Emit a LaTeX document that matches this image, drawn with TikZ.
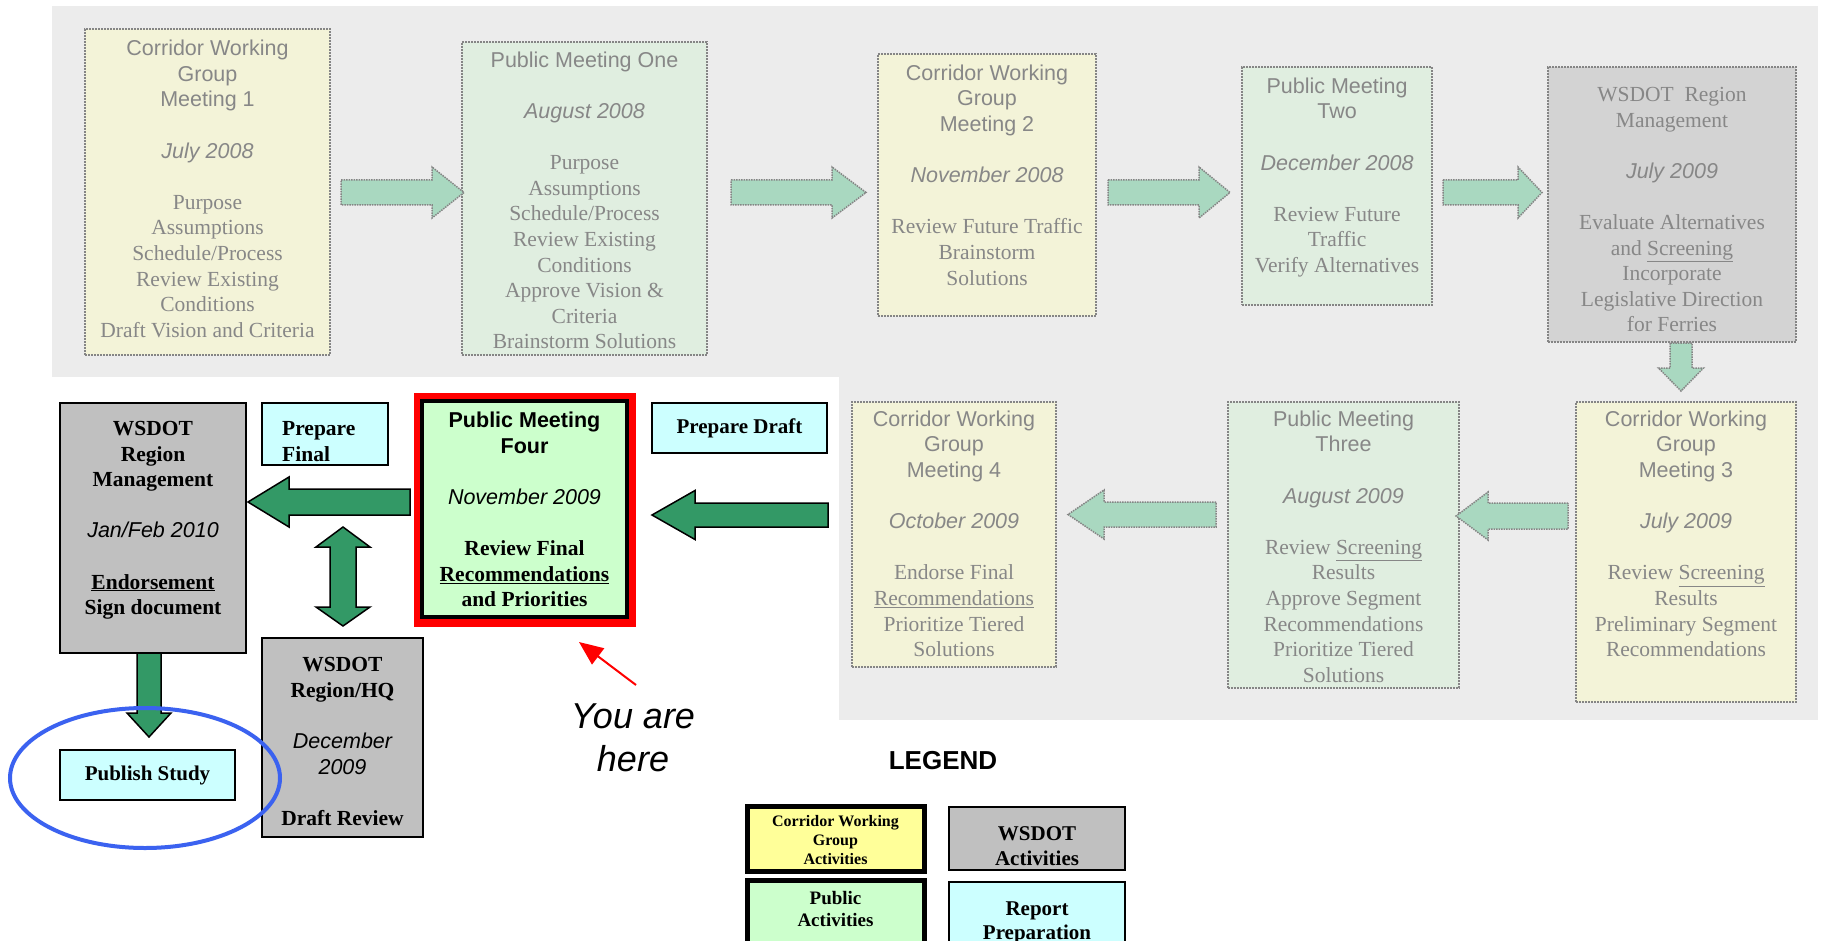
\documentclass[tikz,border=0pt]{standalone}
\usepackage{fontspec}
\setmainfont{Liberation Serif}
\setsansfont{Liberation Sans}
\usetikzlibrary{arrows.meta}
\definecolor{bggray}{HTML}{ECECEC}
\definecolor{fyel}{HTML}{F3F3D8}
\definecolor{fgrn}{HTML}{E0EEE0}
\definecolor{fgry}{HTML}{D3D3D3}
\definecolor{ftext}{HTML}{878787}
\definecolor{fborder}{HTML}{858585}
\definecolor{farrowc}{HTML}{A9D8C0}
\definecolor{wsgray}{HTML}{C0C0C0}
\definecolor{rcyan}{HTML}{CCFFFF}
\definecolor{pgreen}{HTML}{CCFFCC}
\definecolor{cyel}{HTML}{FFFF99}
\definecolor{agreen}{HTML}{339966}
\definecolor{eblue}{HTML}{3B62F0}
\newcommand\Hd[1]{{\sffamily #1}}
\newcommand\Dt[1]{{\sffamily\mdseries\itshape #1}}
\newcommand\mkbox[6]{\node[#2, minimum width={#5-#3}, minimum height={#6-#4}] (#1) at ({(#3+#5)/2},{(#4+#6)/2}) {};}
\newcommand\HArr[7]{\draw[#1] (#2,#5-#6) -- (#3,#5-#6) -- (#3,#5-#7) -- (#4,#5) -- (#3,#5+#7) -- (#3,#5+#6) -- (#2,#5+#6) -- cycle;}
\newcommand\VArr[7]{\draw[#1] (#5-#6,#2) -- (#5-#6,#3) -- (#5-#7,#3) -- (#5,#4) -- (#5+#7,#3) -- (#5+#6,#3) -- (#5+#6,#2) -- cycle;}
\tikzset{
  fbox/.style={draw=fborder, densely dotted, line width=2pt, inner sep=0pt},
  ftxt/.style={text=ftext, align=center, inner sep=0pt, anchor=north, font=\fontsize{21.5}{25.6}\selectfont},
  vbox/.style={draw=black, line width=2.5pt, inner sep=0pt},
  vtxt/.style={text=black, align=center, inner sep=0pt, anchor=north, font=\fontsize{21.5}{25.6}\selectfont\bfseries},
  farrow/.style={fill=farrowc, draw=fborder, densely dotted, line width=1.5pt},
  varrow/.style={fill=agreen, draw=black, line width=1.5pt, line join=miter},
}
\begin{document}
\begin{tikzpicture}[x=1pt,y=-1pt]
\useasboundingbox (0,0) rectangle (1822,941);
\clip (0,0) rectangle (1822,941);
\fill[white] (0,0) rectangle (1822,941);
% faded backgrounds
\fill[bggray] (52,6) rectangle (1818,377);
\fill[bggray] (839,377) rectangle (1818,720);
% faded boxes
\mkbox{cwg1}{fbox, fill=fyel}{85}{29}{330}{355}
\mkbox{pm1}{fbox, fill=fgrn}{462}{42}{707}{355}
\mkbox{cwg2}{fbox, fill=fyel}{878}{54}{1096}{316}
\mkbox{pm2}{fbox, fill=fgrn}{1242}{67}{1432}{305}
\mkbox{wsd1}{fbox, fill=fgry}{1548}{67}{1796}{342}
\mkbox{cwg4}{fbox, fill=fyel}{852}{402}{1056}{667}
\mkbox{pm3}{fbox, fill=fgrn}{1228}{402}{1459}{688}
\mkbox{cwg3}{fbox, fill=fyel}{1576}{402}{1796}{702}
% faded arrows
\HArr{farrow}{341}{432}{464}{192.5}{12.5}{25.5}
\HArr{farrow}{731}{832}{866}{192.5}{12.5}{25.5}
\HArr{farrow}{1108}{1199}{1230}{192.5}{12.5}{25.5}
\HArr{farrow}{1443}{1518}{1542}{192.5}{12.5}{25.5}
\VArr{farrow}{343}{368}{391}{1681}{11}{22.5}
\HArr{farrow}{1216}{1104}{1068}{514.5}{12.5}{24.5}
\HArr{farrow}{1568}{1488}{1456}{516}{13}{24}
% faded texts
\node[ftxt] (cwg1t) at (207.5,40) {\Hd{Corridor Working}\\ \Hd{Group}\\ \Hd{Meeting 1}\\[25.6pt] \Dt{July 2008}\\[25.6pt] Purpose\\ Assumptions\\ Schedule/Process\\ Review Existing\\ Conditions\\ Draft Vision and Criteria};
\node[ftxt] (pm1t) at (584.5,51.5) {\Hd{Public Meeting One}\\[25.6pt] \Dt{August 2008}\\[25.6pt] Purpose\\ Assumptions\\ Schedule/Process\\ Review Existing\\ Conditions\\ Approve Vision \&\\ Criteria\\ Brainstorm Solutions};
\node[ftxt] (cwg2t) at (987,64.5) {\Hd{Corridor Working}\\ \Hd{Group}\\ \Hd{Meeting 2}\\[25.6pt] \Dt{November 2008}\\[25.6pt] Review Future Traffic\\ Brainstorm\\ Solutions};
\node[ftxt] (pm2t) at (1337,77.5) {\Hd{Public Meeting}\\ \Hd{Two}\\[25.6pt] \Dt{December 2008}\\[25.6pt] Review Future\\ Traffic\\ Verify Alternatives};
\node[ftxt] (wsd1t) at (1672,87) {WSDOT\ \ Region\\ Management\\[25.6pt] \Dt{July 2009}\\[25.6pt] Evaluate Alternatives\\ and \underline{Screening}\\ Incorporate\\ Legislative Direction\\ for Ferries};
\node[ftxt] (cwg4t) at (954,410.5) {\Hd{Corridor Working}\\ \Hd{Group}\\ \Hd{Meeting 4}\\[25.6pt] \Dt{October 2009}\\[25.6pt] Endorse Final\\ \underline{Recommendations}\\ Prioritize Tiered\\ Solutions};
\node[ftxt] (pm3t) at (1343.5,410.5) {\Hd{Public Meeting}\\ \Hd{Three}\\[25.6pt] \Dt{August 2009}\\[25.6pt] Review \underline{Screening}\\ Results\\ Approve Segment\\ Recommendations\\ Prioritize Tiered\\ Solutions};
\node[ftxt] (cwg3t) at (1686,410.5) {\Hd{Corridor Working}\\ \Hd{Group}\\ \Hd{Meeting 3}\\[25.6pt] \Dt{July 2009}\\[25.6pt] Review \underline{Screening}\\ Results\\ Preliminary Segment\\ Recommendations};
% vivid arrows
\HArr{varrow}{828}{695}{652}{515}{12}{24.5}
\HArr{varrow}{410}{289}{248}{502}{13}{25}
\draw[varrow] (343,527) -- (370,547) -- (356,547) -- (356,607) -- (370,607) -- (343,626) -- (316,607) -- (330,607) -- (330,547) -- (316,547) -- cycle;
\VArr{varrow}{653}{713}{737}{149}{12}{22}
% vivid boxes
\mkbox{wsd2}{vbox, fill=wsgray}{60}{403}{246}{653}
\mkbox{prf}{vbox, fill=rcyan}{262}{403}{388}{465}
\node[vbox, fill=rcyan, minimum width=175, minimum height=50, font=\fontsize{21}{25}\selectfont\bfseries] (prd) at (739.5,428) {\raisebox{-1.5pt}{Prepare Draft}};
\mkbox{hq}{vbox, fill=wsgray}{262}{638}{423}{837}
\node[vbox, fill=rcyan, minimum width=175, minimum height=50, font=\fontsize{21}{25}\selectfont\bfseries] (pub) at (147.5,775) {\raisebox{-2pt}{Publish Study}};
\draw[red, line width=8pt] (418,397) rectangle (632,623);
\mkbox{pm4}{draw=black, line width=3.5pt, fill=pgreen, inner sep=0pt}{422}{401}{627}{617}
% vivid texts
\node[vtxt] (wsd2t) at (153,421) {WSDOT\\ Region\\ Management\\[25.6pt] \Dt{Jan/Feb 2010}\\[25.6pt] \underline{Endorsement}\\ Sign document};
\node[vtxt, align=left, anchor=north west] (prft) at (282,421.5) {Prepare\\ Final};
\node[vtxt] (pm4t) at (524.5,412) {\Hd{Public Meeting}\\ \Hd{Four}\\[25.6pt] \Dt{November 2009}\\[25.6pt] Review Final\\ \underline{Recommendations}\\ and Priorities};
\node[vtxt] (hqt) at (342.5,657.5) {WSDOT\\ Region/HQ\\[25.6pt] \Dt{December}\\ \Dt{2009}\\[25.6pt] Draft Review};
% ellipse
\draw[eblue, line width=4pt] (145,778) ellipse [x radius=135, y radius=70];
% you are here
\coordinate (youtail) at (636,685);
\coordinate (youtip) at (579,642);
\draw[red, line width=2pt, -{Triangle[length=24pt,width=20pt]}] (youtail) -- (youtip);
\node[align=center, inner sep=0pt, font=\fontsize{36}{43}\selectfont\sffamily\itshape] (here) at (633,737.5) {You are\\here};
% legend
\node[inner sep=0pt, font=\fontsize{26}{30}\selectfont\sffamily\bfseries] (legend) at (943,760.5) {LEGEND};
\mkbox{lg1}{draw=black, line width=5pt, fill=cyel, inner sep=0pt}{747}{806}{924}{871}
\mkbox{lg2}{vbox, fill=wsgray}{949}{807}{1125}{870}
\mkbox{lg3}{draw=black, line width=5pt, fill=pgreen, inner sep=0pt}{747}{880}{924}{970}
\mkbox{lg4}{vbox, fill=rcyan}{949}{882}{1125}{970}
\node[align=center, inner sep=0pt, font=\fontsize{16}{19}\selectfont\bfseries] (lg1t) at (835.5,840) {Corridor Working\\ Group\\ Activities};
\node[align=center, inner sep=0pt, font=\fontsize{21}{24.5}\selectfont\bfseries] (lg2t) at (1037,846) {WSDOT\\ Activities};
\node[align=center, inner sep=0pt, font=\fontsize{19}{22}\selectfont\bfseries] (lg3t) at (835.5,908.5) {Public\\ Activities};
\node[align=center, inner sep=0pt, font=\fontsize{21}{24}\selectfont\bfseries] (lg4t) at (1037,922.5) {Report\\ Preparation};
\end{tikzpicture}
\end{document}
